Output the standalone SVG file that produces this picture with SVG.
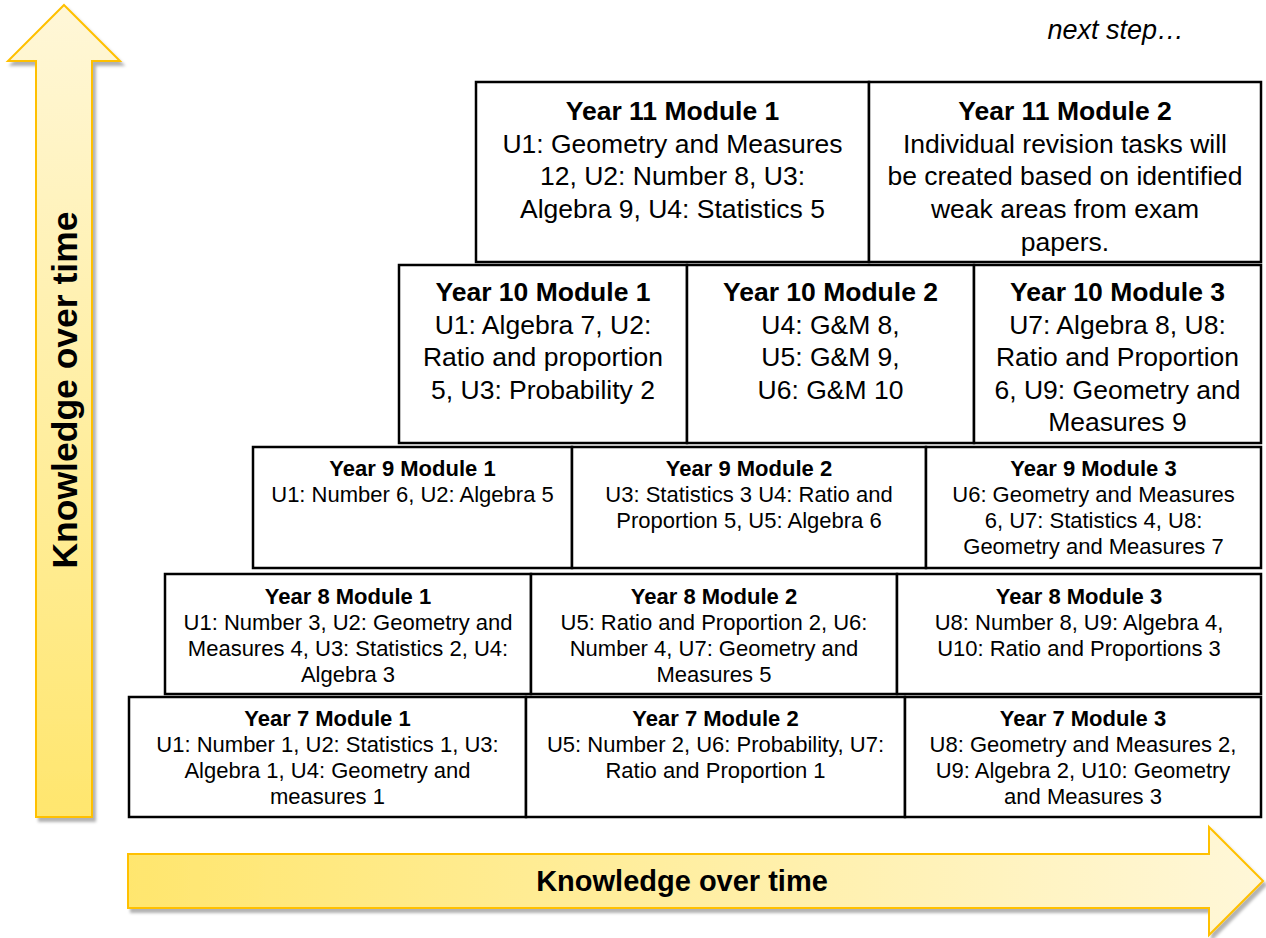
<svg xmlns="http://www.w3.org/2000/svg" width="1266" height="938" viewBox="0 0 1266 938">
<defs>
<linearGradient id="gv" x1="0" y1="0" x2="0" y2="1">
<stop offset="0" stop-color="#FFF7D8"/>
<stop offset="1" stop-color="#FFE66E"/>
</linearGradient>
<linearGradient id="gh" x1="0" y1="0" x2="1" y2="0">
<stop offset="0" stop-color="#FFE66E"/>
<stop offset="1" stop-color="#FFF7D8"/>
</linearGradient>
<filter id="sh" x="-10%" y="-10%" width="130%" height="130%">
<feDropShadow dx="3" dy="4" stdDeviation="1.5" flood-color="#000" flood-opacity="0.3"/>
</filter>
<style>
.box{fill:#fff;stroke:#000;stroke-width:2.5}
.arrow{stroke:#FFC000;stroke-width:2;filter:url(#sh)}
text{font-family:"Liberation Sans",Arial,sans-serif;fill:#000;text-anchor:middle}
.big{font-size:26.5px}
.sm{font-size:22px}
.b{font-weight:bold}
.lbl{font-weight:bold}
</style>
</defs>
<rect width="1266" height="938" fill="#fff"/>
<g id="arrows">
<polygon class="arrow" fill="url(#gv)" points="64,5 120,61 92,61 92,817 36,817 36,61 8,61"/>
<polygon class="arrow" fill="url(#gh)" points="128,854 1209,854 1209,827 1263,881 1209,935 1209,908 128,908"/>
<text class="lbl" x="682" y="891" style="font-size:29px">Knowledge over time</text>
<text class="lbl" transform="translate(77,390) rotate(-90)" style="font-size:35.5px">Knowledge over time</text>
</g>
<text x="1184" y="39" style="font-size:27px;font-style:italic;text-anchor:end">next step…</text>
<g id="y11m1"><rect class="box" x="476" y="82" width="393" height="180"/>
<text class="big" x="672.5" y="120"><tspan class="b">Year 11 Module 1</tspan><tspan x="672.5" dy="32.7">U1: Geometry and Measures</tspan><tspan x="672.5" dy="32.7">12, U2: Number 8, U3:</tspan><tspan x="672.5" dy="32.7">Algebra 9, U4: Statistics 5</tspan></text></g>
<g id="y11m2"><rect class="box" x="869" y="82" width="392" height="180"/>
<text class="big" x="1065" y="120"><tspan class="b">Year 11 Module 2</tspan><tspan x="1065" dy="32.7">Individual revision tasks will</tspan><tspan x="1065" dy="32.7">be created based on identified</tspan><tspan x="1065" dy="32.7">weak areas from exam</tspan><tspan x="1065" dy="32.7">papers.</tspan></text></g>
<g id="y10m1"><rect class="box" x="399" y="265" width="288" height="178"/>
<text class="big" x="543" y="301"><tspan class="b">Year 10 Module 1</tspan><tspan x="543" dy="32.5">U1: Algebra 7, U2:</tspan><tspan x="543" dy="32.5">Ratio and proportion</tspan><tspan x="543" dy="32.5">5, U3: Probability 2</tspan></text></g>
<g id="y10m2"><rect class="box" x="687" y="265" width="287" height="178"/>
<text class="big" x="830.5" y="301"><tspan class="b">Year 10 Module 2</tspan><tspan x="830.5" dy="32.5">U4: G&amp;M 8,</tspan><tspan x="830.5" dy="32.5">U5: G&amp;M 9,</tspan><tspan x="830.5" dy="32.5">U6: G&amp;M 10</tspan></text></g>
<g id="y10m3"><rect class="box" x="974" y="265" width="287" height="178"/>
<text class="big" x="1117.5" y="301"><tspan class="b">Year 10 Module 3</tspan><tspan x="1117.5" dy="32.5">U7: Algebra 8, U8:</tspan><tspan x="1117.5" dy="32.5">Ratio and Proportion</tspan><tspan x="1117.5" dy="32.5">6, U9: Geometry and</tspan><tspan x="1117.5" dy="32.5">Measures 9</tspan></text></g>
<g id="y9m1"><rect class="box" x="253" y="447" width="319" height="121"/>
<text class="sm" x="412.5" y="476"><tspan class="b">Year 9 Module 1</tspan><tspan x="412.5" dy="26">U1: Number 6, U2: Algebra 5</tspan></text></g>
<g id="y9m2"><rect class="box" x="572" y="447" width="354" height="121"/>
<text class="sm" x="749" y="476"><tspan class="b">Year 9 Module 2</tspan><tspan x="749" dy="26">U3: Statistics 3 U4: Ratio and</tspan><tspan x="749" dy="26">Proportion 5, U5: Algebra 6</tspan></text></g>
<g id="y9m3"><rect class="box" x="926" y="447" width="335" height="121"/>
<text class="sm" x="1093.5" y="476"><tspan class="b">Year 9 Module 3</tspan><tspan x="1093.5" dy="26">U6: Geometry and Measures</tspan><tspan x="1093.5" dy="26">6, U7: Statistics 4, U8:</tspan><tspan x="1093.5" dy="26">Geometry and Measures 7</tspan></text></g>
<g id="y8m1"><rect class="box" x="165" y="574" width="366" height="120"/>
<text class="sm" x="348" y="604"><tspan class="b">Year 8 Module 1</tspan><tspan x="348" dy="26">U1: Number 3, U2: Geometry and</tspan><tspan x="348" dy="26">Measures 4, U3: Statistics 2, U4:</tspan><tspan x="348" dy="26">Algebra 3</tspan></text></g>
<g id="y8m2"><rect class="box" x="531" y="574" width="366" height="120"/>
<text class="sm" x="714" y="604"><tspan class="b">Year 8 Module 2</tspan><tspan x="714" dy="26">U5: Ratio and Proportion 2, U6:</tspan><tspan x="714" dy="26">Number 4, U7: Geometry and</tspan><tspan x="714" dy="26">Measures 5</tspan></text></g>
<g id="y8m3"><rect class="box" x="897" y="574" width="364" height="120"/>
<text class="sm" x="1079" y="604"><tspan class="b">Year 8 Module 3</tspan><tspan x="1079" dy="26">U8: Number 8, U9: Algebra 4,</tspan><tspan x="1079" dy="26">U10: Ratio and Proportions 3</tspan></text></g>
<g id="y7m1"><rect class="box" x="129" y="697" width="397" height="120"/>
<text class="sm" x="327.5" y="726"><tspan class="b">Year 7 Module 1</tspan><tspan x="327.5" dy="26">U1: Number 1, U2: Statistics 1, U3:</tspan><tspan x="327.5" dy="26">Algebra 1, U4: Geometry and</tspan><tspan x="327.5" dy="26">measures 1</tspan></text></g>
<g id="y7m2"><rect class="box" x="526" y="697" width="379" height="120"/>
<text class="sm" x="715.5" y="726"><tspan class="b">Year 7 Module 2</tspan><tspan x="715.5" dy="26">U5: Number 2, U6: Probability, U7:</tspan><tspan x="715.5" dy="26">Ratio and Proportion 1</tspan></text></g>
<g id="y7m3"><rect class="box" x="905" y="697" width="356" height="120"/>
<text class="sm" x="1083" y="726"><tspan class="b">Year 7 Module 3</tspan><tspan x="1083" dy="26">U8: Geometry and Measures 2,</tspan><tspan x="1083" dy="26">U9: Algebra 2, U10: Geometry</tspan><tspan x="1083" dy="26">and Measures 3</tspan></text></g>
</svg>
